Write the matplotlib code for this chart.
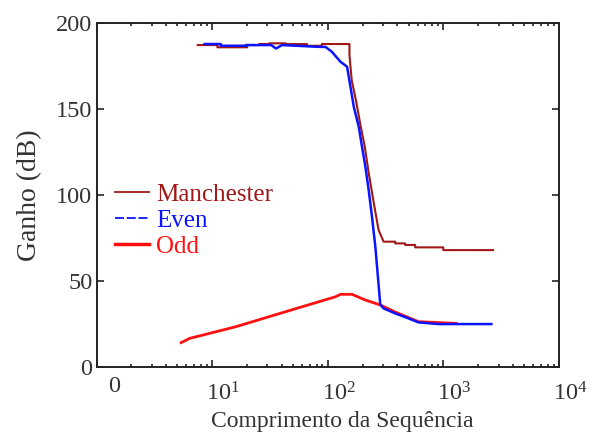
import matplotlib
matplotlib.use("Agg")
import matplotlib.pyplot as plt
import matplotlib.transforms as mtransforms
from matplotlib.lines import Line2D
from matplotlib.ticker import LogLocator, NullFormatter, FixedLocator

plt.rcParams['font.family'] = ['Liberation Serif', 'DejaVu Serif']
plt.rcParams['mathtext.fontset'] = 'custom'
plt.rcParams['mathtext.rm'] = 'Liberation Serif'
plt.rcParams['mathtext.it'] = 'Liberation Serif:italic'

# Data
man_x = [7.5, 11.1, 11.1, 20.1, 20.1, 25.5, 25.5, 31.1, 31.1, 43.3, 43.3, 66.1, 66.1,
         88.9, 88.9, 154, 154, 161, 175, 193, 209, 226, 250, 275, 304, 383, 383, 467,
         467, 570, 570, 998, 998, 2690]
man_y = [187.0, 187.0, 185.7, 185.7, 187.0, 187.0, 187.6, 187.6, 188.0, 188.0, 187.6,
         187.6, 186.6, 186.6, 187.6, 187.6, 181.2, 166.7, 155.1, 139.5, 127.9, 112.6,
         95.2, 79.5, 72.7, 72.7, 71.7, 71.7, 70.8, 70.8, 69.4, 69.4, 67.8, 67.8]

even_x = [8.6, 11.9, 11.9, 19.6, 19.6, 32.4, 35.7, 40.3, 80.5, 95.7, 108.5, 128.8,
          146.9, 157.1, 167.8, 185.3, 197.8, 211.5, 225.8, 241.1, 257.8, 284.6, 304,
          383, 499, 608, 903, 2600]
even_y = [187.6, 187.6, 186.6, 186.6, 187.0, 187.0, 185.0, 187.0, 186.0, 185.9, 183.1,
          177.3, 174.4, 162.8, 151.2, 139.5, 127.9, 116.3, 102.8, 87.3, 69.9, 36.1,
          33.9, 31.0, 28.1, 25.8, 24.8, 24.8]

odd_x = [5.4, 6.4, 8.3, 16.1, 31.1, 60.2, 117, 129, 162, 211, 285, 383, 608, 1290]
odd_y = [14.0, 16.5, 18.4, 23.3, 29.1, 34.9, 40.7, 42.1, 42.1, 38.8, 35.9, 31.8, 26.2, 25.2]

series_names = ['Manchester', 'Even', 'Odd']
series_colors = ['#a01818', '#0a14ff', '#ff1010']

x_ticks = [1, 10, 100, 1000, 10000]
x_tick_labels = ['0', r'$\mathregular{10^1}$', r'$\mathregular{10^2}$',
                 r'$\mathregular{10^3}$', r'$\mathregular{10^4}$']
y_ticks = [0, 50, 100, 150, 200]

fig = plt.figure(figsize=(5.98, 4.34), dpi=100)
ax = fig.add_axes([0.1614, 0.155, 0.7734, 0.7927])

ax.plot(man_x, man_y, color=series_colors[0], lw=1.5)
ax.plot(odd_x, odd_y, color=series_colors[2], lw=2.0)
ax.plot(even_x, even_y, color=series_colors[1], lw=1.8)

ax.set_xscale('log')
ax.set_xlim(1, 10000)
ax.set_ylim(0, 200)
ax.xaxis.set_major_locator(FixedLocator(x_ticks))
ax.set_xticklabels(x_tick_labels)
ax.xaxis.set_minor_locator(LogLocator(base=10, subs=range(2, 10), numticks=20))
ax.xaxis.set_minor_formatter(NullFormatter())
ax.set_yticks(y_ticks)
ax.set_yticklabels([str(v) for v in y_ticks])

ax.tick_params(which='both', direction='in', top=True, right=True, labelsize=17.5,
               width=1.2, color='#222222')
ax.tick_params(which='major', length=5)
ax.tick_params(which='minor', length=2.5)
ax.tick_params(axis='x', pad=8)
ax.tick_params(axis='y', pad=3)
for s in ax.spines.values():
    s.set_linewidth(1.4)
    s.set_color('#222222')

# shift tick labels to match the reference placement (pixels: right, down)
for i, lab in enumerate(ax.get_xticklabels()):
    dx = 18 if i == 0 else 11
    down = -2 if i == 0 else 4
    lab.set_transform(lab.get_transform() + mtransforms.ScaledTranslation(dx / 100, -down / 100, fig.dpi_scale_trans))

ax.set_xlabel('Comprimento da Sequência', fontsize=17, color='#333333')
ax.xaxis.set_label_coords(0.531, -0.128)
ax.set_ylabel('Ganho (dB)', fontsize=20, labelpad=10, color='#333333')
for lab in ax.get_xticklabels() + ax.get_yticklabels():
    lab.set_color('#333333')

handles = [Line2D([], [], color=series_colors[0], lw=1.3),
           Line2D([], [], color=series_colors[1], lw=1.3, ls=(0, (5, 1.5))),
           Line2D([], [], color=series_colors[2], lw=2.5)]
leg = ax.legend(handles, series_names, loc='upper left', bbox_to_anchor=(0.018, 0.563),
                frameon=False, fontsize=18, handlelength=1.35, handletextpad=0.3,
                labelspacing=0.15, borderaxespad=0)
for t, c in zip(leg.get_texts(), series_colors):
    t.set_color(c)

fig.savefig('out.png', dpi=100)
